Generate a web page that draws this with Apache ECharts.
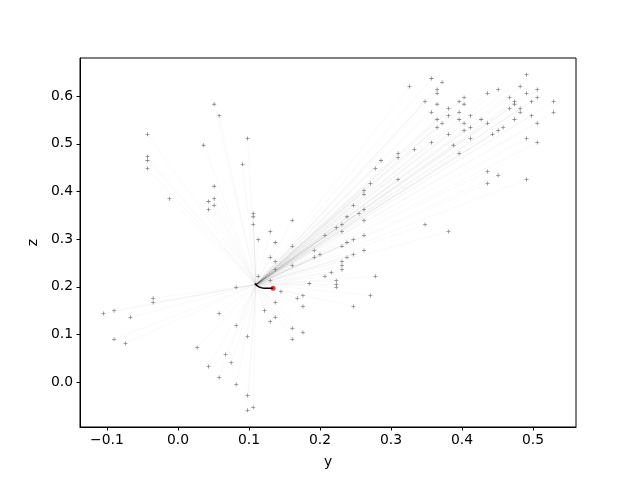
<!DOCTYPE html>
<html><head><meta charset="utf-8">
<script src="https://cdn.jsdelivr.net/npm/echarts@6/dist/echarts.min.js"></script>
<style>html,body{margin:0;padding:0;background:#fff}#c{width:640px;height:480px}</style>
</head><body><div id="c"></div>
<script>
// endpoint positions (y, z)
const endY = [
 0.051,0.058,-0.043,0.036,-0.043,-0.043,-0.043,0.091,
 0.326,0.098,0.310,0.310,0.286,0.278,0.310,
 0.491,0.357,0.372,0.482,0.365,0.365,0.436,0.451,0.491,0.506,0.506,0.403,0.467,0.348,0.396,0.403,0.365,0.474,0.474,0.498,0.529,
 0.381,0.467,0.482,0.357,0.396,0.482,0.529,0.381,0.412,0.498,0.365,0.396,0.427,0.474,0.372,0.403,0.436,0.506,0.365,0.412,0.458,
 0.403,0.451,0.381,0.443,0.412,0.491,0.357,0.506,0.388,0.333,0.396,0.436,0.451,0.491,
 0.051,-0.012,0.051,0.043,0.051,0.043,0.082,-0.035,-0.035,
 0.271,0.262,0.262,0.247,0.262,0.255,0.106,0.106,0.238,0.106,0.161,0.262,0.231,0.223,0.130,0.231,0.207,0.262,0.113,0.247,
 0.137,0.238,0.161,0.231,0.192,0.262,0.200,0.247,0.130,0.192,0.238,0.137,0.231,0.231,0.161,0.137,0.231,0.216,0.113,0.207,
 0.278,0.223,0.130,0.223,0.223,0.185,0.145,0.176,0.168,0.271,0.137,
 0.436,0.348,0.381,
 -0.105,-0.090,-0.067,0.058,0.082,-0.090,-0.074,0.027,0.067,0.075,0.043,0.058,0.082,
 0.176,0.247,0.122,0.137,0.130,0.161,0.176,0.161,0.098,0.098,0.106,0.098
];
const endZ = [
 0.583,0.559,0.520,0.497,0.473,0.465,0.448,0.457,
 0.620,0.511,0.480,0.471,0.465,0.448,0.425,
 0.645,0.637,0.629,0.620,0.614,0.606,0.606,0.614,0.606,0.614,0.597,0.597,0.597,0.589,0.589,0.583,0.583,0.589,0.583,0.589,0.589,
 0.574,0.574,0.574,0.566,0.566,0.566,0.566,0.559,0.559,0.559,0.551,0.551,0.551,0.551,0.543,0.543,0.543,0.543,0.534,0.534,0.534,
 0.528,0.528,0.520,0.520,0.511,0.511,0.503,0.503,0.497,0.488,0.480,0.442,0.434,0.425,
 0.411,0.385,0.385,0.379,0.371,0.362,0.199,0.176,0.167,
 0.417,0.402,0.394,0.371,0.362,0.354,0.354,0.347,0.347,0.331,0.339,0.339,0.331,0.324,0.316,0.316,0.308,0.308,0.299,0.299,
 0.293,0.293,0.285,0.285,0.276,0.276,0.268,0.268,0.262,0.262,0.262,0.253,0.253,0.245,0.245,0.236,0.236,0.230,0.222,0.222,
 0.222,0.213,0.213,0.205,0.199,0.207,0.190,0.182,0.176,0.182,0.167,
 0.417,0.331,0.316,
 0.144,0.150,0.136,0.144,0.119,0.090,0.081,0.073,0.058,0.041,0.033,0.010,-0.005,
 0.159,0.159,0.150,0.136,0.127,0.113,0.104,0.090,0.096,-0.028,-0.053,-0.059
];
// common start of the trajectories
const startPoint = [0.110, 0.205];
// dark trail and current (red) position
const trailY = [0.108, 0.114, 0.121, 0.134];
const trailZ = [0.207, 0.200, 0.197, 0.197];
const current = [0.134, 0.197];
const xTicks = [-0.1, 0.0, 0.1, 0.2, 0.3, 0.4, 0.5];
const yTicks = [0.0, 0.1, 0.2, 0.3, 0.4, 0.5, 0.6];

const fmt = v => (v < -1e-9 ? '\u2212' : '') + Math.abs(v).toFixed(1);
const font = 'DejaVu Sans';
const axisCommon = {
  axisLine: {show: true, onZero: false, lineStyle: {color: '#000', width: 1}},
  splitLine: {show: false},
  nameTextStyle: {fontFamily: font, fontSize: 13.9, color: '#000'}
};
const chart = echarts.init(document.getElementById('c'), null, {renderer: 'canvas'});
const traj = endY.map((y, i) => ({coords: [startPoint, [y, endZ[i]]]}));
chart.setOption({
  animation: false,
  grid: {left: 80, right: 64, top: 58, bottom: 53, show: true, borderColor: '#000', borderWidth: 1, backgroundColor: 'transparent'},
  xAxis: Object.assign({}, axisCommon, {
    type: 'value', min: -0.138, max: 0.5606, name: 'y', nameLocation: 'middle', nameGap: 28,
    axisTick: {show: true, length: 3.5, inside: false, lineStyle: {color: '#000'}, customValues: xTicks},
    axisLabel: {customValues: xTicks, formatter: fmt, fontFamily: font, fontSize: 13.9, color: '#000', margin: 6}
  }),
  yAxis: Object.assign({}, axisCommon, {
    type: 'value', min: -0.094, max: 0.68, name: 'z', nameLocation: 'middle', nameGap: 38,
    axisTick: {show: true, length: 3.5, inside: false, lineStyle: {color: '#000'}, customValues: yTicks},
    axisLabel: {customValues: yTicks, formatter: fmt, fontFamily: font, fontSize: 13.9, color: '#000', margin: 7}
  }),
  series: [
    {type: 'lines', coordinateSystem: 'cartesian2d', polyline: false, silent: true,
     lineStyle: {color: 'rgba(0,0,0,0.07)', width: 0.8, curveness: 0}, data: traj},
    {type: 'line', data: trailY.map((y, i) => [y, trailZ[i]]), smooth: true, showSymbol: false,
     lineStyle: {color: '#000', width: 1.5}, silent: true},
    {type: 'scatter', data: endY.map((y, i) => [y, endZ[i]]), symbol: 'path://M2,0H3V2H5V3H3V5H2V3H0V2H2Z', symbolSize: 4,
     itemStyle: {color: '#6a6a6a'}, silent: true},
    {type: 'scatter', data: [current], symbol: 'circle', symbolSize: 5, itemStyle: {color: '#ff0000'}, silent: true}
  ]
});
</script></body></html>
